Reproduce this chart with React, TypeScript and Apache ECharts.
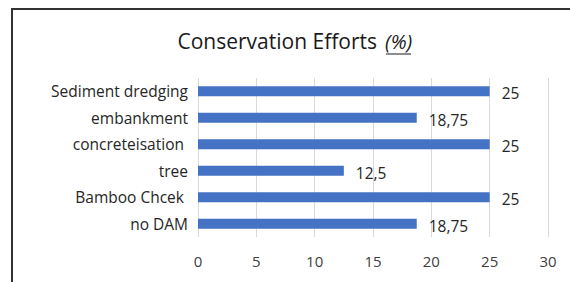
import React, { useEffect, useRef } from "react";
import * as echarts from "echarts";

const categories = ["no DAM", "Bamboo Chcek ", "tree", "concreteisation ", "embankment", "Sediment dredging"];
const values = [18.75, 25, 12.5, 25, 18.75, 25];
const axisMin = 0;
const axisMax = 30;
const axisStep = 5;
const titleMain = "Conservation Efforts";
const titleUnit = "(%)";

const FONT = "'Open Sans', sans-serif";

export default function App() {
  const ref = useRef<HTMLDivElement>(null);
  useEffect(() => {
    if (!ref.current) return;
    const chart = echarts.init(ref.current, null, { renderer: "svg" });
    chart.setOption({
      animation: false,
      backgroundColor: "#ffffff",
      textStyle: { fontFamily: FONT },
      graphic: [
        {
          type: "polyline",
          shape: { points: [[12, 282], [12, 9], [570, 9]] },
          style: { stroke: "#333333", lineWidth: 2, fill: null },
          silent: true,
        },
        {
          type: "text",
          x: 377,
          y: 41,
          style: {
            text: titleMain,
            font: "normal 21px 'Open Sans', sans-serif",
            fill: "#1a1a1a",
            align: "right",
            verticalAlign: "middle",
          },
          silent: true,
        },
        {
          type: "text",
          x: 385,
          y: 41,
          style: {
            text: titleUnit,
            font: "italic 20px 'Open Sans', sans-serif",
            fill: "#1a1a1a",
            align: "left",
            verticalAlign: "middle",
          },
          silent: true,
        },
        {
          type: "line",
          shape: { x1: 386, y1: 54, x2: 411, y2: 54 },
          style: { stroke: "#1a1a1a", lineWidth: 1 },
          silent: true,
        },
      ],
      grid: { left: 198, right: 22, top: 78, bottom: 45, containLabel: false },
      xAxis: {
        type: "value",
        min: axisMin,
        max: axisMax,
        interval: axisStep,
        axisLine: { show: false },
        axisTick: { show: false },
        splitLine: { show: true, lineStyle: { color: "#d9d9d9", width: 1 } },
        axisLabel: { color: "#404040", fontSize: 15, margin: 16, fontFamily: FONT },
      },
      yAxis: {
        type: "category",
        data: categories,
        axisLine: { show: false },
        axisTick: { show: false },
        axisLabel: { color: "#262626", fontSize: 15.5, margin: 10, fontFamily: FONT },
      },
      series: [
        {
          type: "bar",
          data: values,
          barWidth: 10,
          itemStyle: { color: "#4472C4" },
          label: {
            show: true,
            position: "right",
            distance: 12,
            offset: [0, 2],
            color: "#262626",
            fontSize: 15.5,
            fontFamily: FONT,
            formatter: (p: any) => String(p.value).replace(".", ","),
          },
        },
      ],
    });
    return () => chart.dispose();
  }, []);
  return <div ref={ref} style={{ width: 570, height: 282, position: "absolute", left: 0, top: 0 }} />;
}
